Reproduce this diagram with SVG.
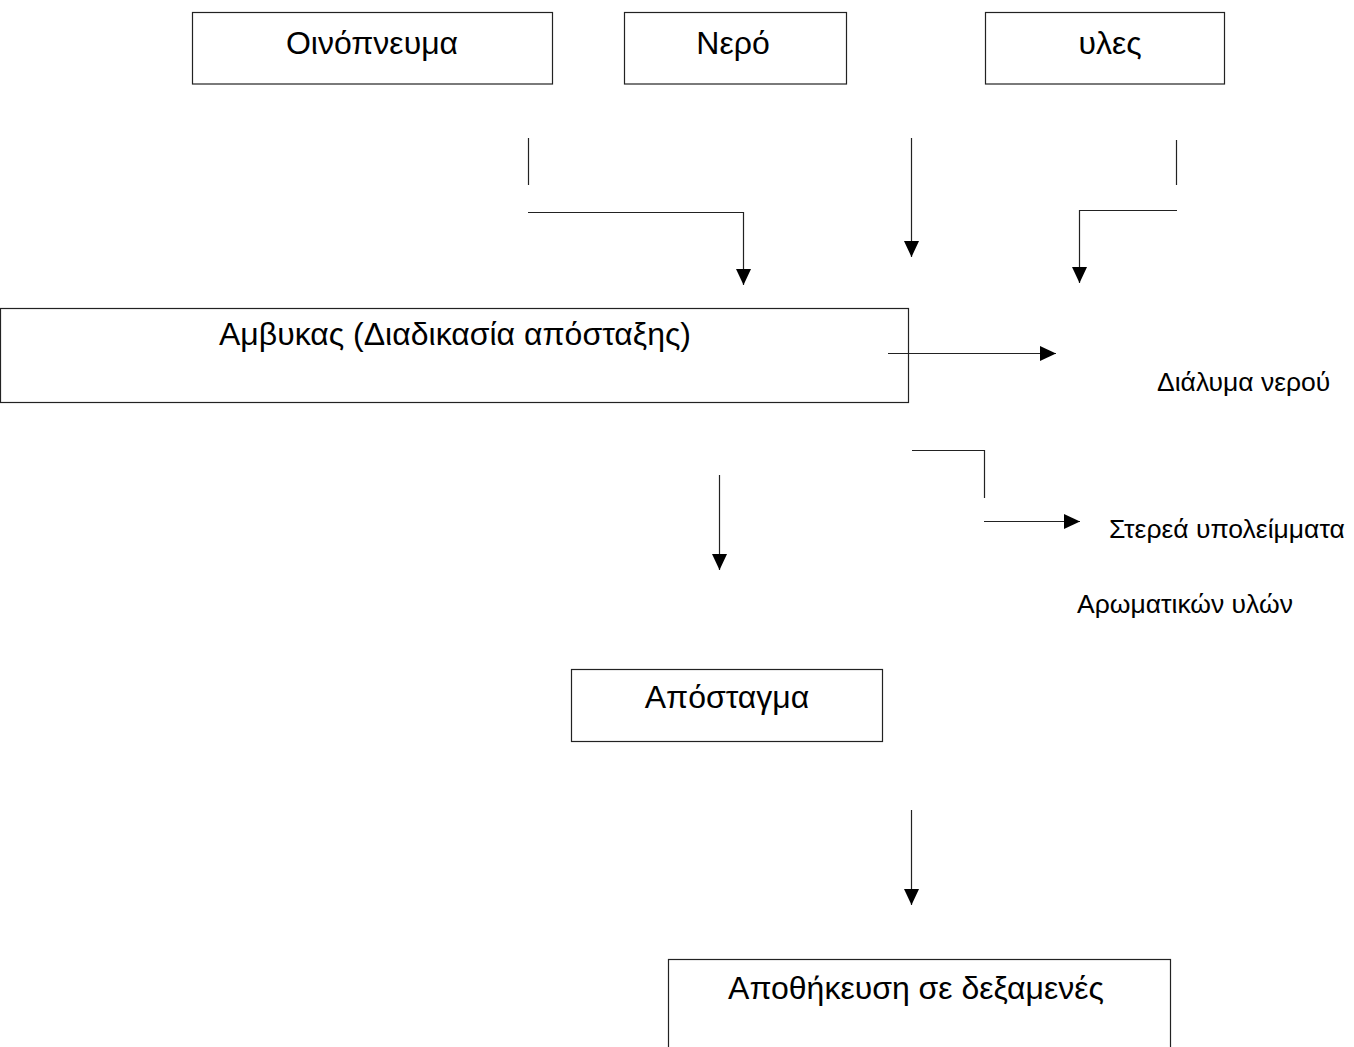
<svg xmlns="http://www.w3.org/2000/svg" width="1354" height="1047" viewBox="0 0 1354 1047">
<style>
.box{fill:#fff;stroke:#222;stroke-width:1.2}
.t{font-family:"Liberation Sans",Arial,sans-serif;fill:#000;text-anchor:middle}
.big{font-size:32px}
.lbl{font-family:"Liberation Sans",Arial,sans-serif;fill:#000;font-size:26.5px}
.ln{fill:none;stroke:#222;stroke-width:1.2}
</style>
<defs>
<marker id="ah" markerUnits="userSpaceOnUse" markerWidth="16" markerHeight="16" viewBox="0 0 16 16" refX="16" refY="8" orient="auto">
<path d="M0,0.5 L16,8 L0,15.5 Z" fill="#000"/>
</marker>
</defs>
<rect width="1354" height="1047" fill="#fff"/>
<g id="n-oinopneuma"><rect class="box" x="192.5" y="12.5" width="360" height="71.5"/><text class="t big" x="372" y="54">Οινόπνευμα</text></g>
<g id="n-nero"><rect class="box" x="624.5" y="12.5" width="222" height="71.5"/><text class="t big" x="733" y="54">Νερό</text></g>
<g id="n-yles"><rect class="box" x="985.5" y="12.5" width="239" height="71.5"/><text class="t big" x="1110" y="54">υλες</text></g>
<g id="n-amvykas"><rect class="box" x="0.5" y="308.5" width="908" height="94"/><text class="t big" x="455" y="345">Αμβυκας (Διαδικασία απόσταξης)</text></g>
<g id="n-apostagma"><rect class="box" x="571.5" y="669.5" width="311" height="72"/><text class="t big" x="727" y="708">Απόσταγμα</text></g>
<g id="n-apothikeusi"><rect class="box" x="668.5" y="959.5" width="502" height="100"/><text class="t big" x="916" y="999">Αποθήκευση σε δεξαμενές</text></g>
<g id="n-dialyma"><text class="lbl" x="1157" y="391">Διάλυμα νερού</text></g>
<g id="n-sterea"><text class="lbl" x="1109" y="538">Στερεά υπολείμματα</text></g>
<g id="n-aromatikon"><text class="lbl" x="1077" y="613">Αρωματικών υλών</text></g>
<g id="connectors">
<path class="ln" d="M528.5,138 V185"/>
<path class="ln" d="M528,212.5 H743.5 V285" marker-end="url(#ah)"/>
<path class="ln" d="M911.5,138 V257" marker-end="url(#ah)"/>
<path class="ln" d="M1176.5,140 V185"/>
<path class="ln" d="M1177,210.5 H1079.5 V283" marker-end="url(#ah)"/>
<path class="ln" d="M888,353.5 H1056" marker-end="url(#ah)"/>
<path class="ln" d="M912,450.5 H984.5 V498"/>
<path class="ln" d="M984,521.5 H1080" marker-end="url(#ah)"/>
<path class="ln" d="M719.5,475 V570" marker-end="url(#ah)"/>
<path class="ln" d="M911.5,810 V905" marker-end="url(#ah)"/>
</g>
</svg>
